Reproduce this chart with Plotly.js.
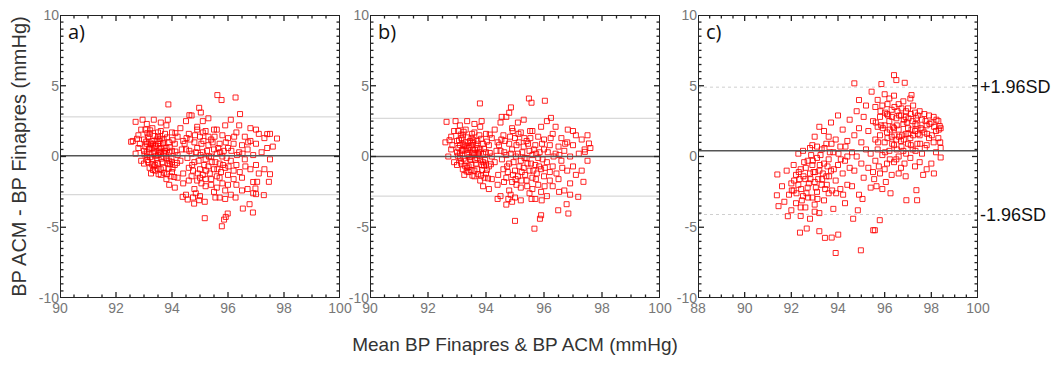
<!DOCTYPE html>
<html><head><meta charset="utf-8">
<script src="https://cdn.plot.ly/plotly-3.0.1.min.js"></script>
</head><body style="margin:0"><div id="chart"></div>
<script>
// Panel a) points [mean, difference]
const panelA = [
[92.6,1.1],[92.7,0.2],[92.8,1.5],[92.8,0.6],[92.9,-0.3],[92.9,1.9],[93.0,1.2],[93.0,0.4],[93.0,-0.5],[93.1,2.3],[93.1,0.9],[93.1,0.0],[93.2,1.6],[93.2,-0.8],[93.2,0.5],[93.3,1.1],[93.3,-0.2],[93.3,2.0],[93.4,0.7],[93.4,-1.0],[93.4,0.2],[93.5,1.4],[93.5,-0.5],[93.5,0.9],[93.6,-1.3],[93.6,0.3],[93.6,1.8],[93.7,0.0],[93.7,-0.8],[93.7,1.2],[93.8,0.6],[93.8,-1.6],[93.8,2.2],[93.9,-0.3],[93.9,1.0],[93.9,-2.0],[94.0,0.4],[94.0,-1.1],[94.0,1.7],[94.1,-0.6],[94.1,0.9],[94.1,-2.2],[94.2,0.1],[94.2,1.4],[94.2,-1.5],[93.05,0.7],[93.15,-0.4],[93.25,0.9],[93.35,0.3],[93.45,-0.1],[93.55,0.6],[93.65,-0.4],[93.75,0.4],[93.85,-0.5],[93.45,1.2],[93.25,-1.2],[93.6,2.4],[92.95,2.6],[93.35,2.6],[93.85,2.6],
[93.1,0.3],[93.2,1.0],[93.3,0.6],[93.4,-0.6],[93.5,0.1],[93.6,-0.9],[93.7,0.7],[93.8,-0.1],[93.9,0.3],[94.0,-0.4],[93.15,1.4],[93.55,1.1],[93.95,-1.4],[93.35,-0.7],
[93.02,0.15],[93.08,1.05],[93.12,-0.25],[93.18,0.55],[93.22,1.85],[93.28,-0.55],[93.32,0.85],[93.38,1.45],[93.42,0.05],[93.48,-0.85],[93.52,0.35],[93.58,1.25],[93.62,-0.15],[93.68,0.95],[93.72,-1.15],[93.78,0.15],[93.82,1.35],[93.88,-0.85],[93.92,0.65],[93.98,-0.15],[94.02,1.15],[94.08,-1.45],[94.12,0.35],[94.18,-0.45],[93.12,1.65],[93.22,-0.05],[93.32,-0.95],[93.42,0.75],[93.52,-1.25],[93.62,0.55],[93.72,0.25],[93.82,-1.25],[93.92,-0.55],[94.02,-0.85],[94.12,1.65],[93.05,1.9],[93.5,1.7],[93.75,1.6],[92.85,0.9],[92.75,1.25],
[94.3,2.0],[94.3,-0.3],[94.4,1.1],[94.4,-1.9],[94.5,0.5],[94.5,-2.7],[94.5,2.5],[94.6,-0.8],[94.6,1.6],[94.7,-1.4],[94.7,0.2],[94.7,2.9],[94.8,-2.3],[94.8,1.0],[94.8,-0.4],[94.9,0.6],[94.9,-1.7],[94.9,2.1],[95.0,-0.9],[95.0,1.4],[95.0,-2.8],[95.1,0.3],[95.1,2.5],[95.1,-1.3],[95.2,-0.2],[95.2,1.8],[95.2,-2.1],[95.3,0.8],[95.3,-0.7],[95.3,2.7],[95.4,-1.6],[95.4,0.0],[95.4,1.2],[95.5,-2.5],[95.5,0.5],[95.5,-0.9],[95.6,1.9],[95.6,-1.4],[95.6,0.2],[95.7,-2.9],[95.7,0.9],[95.7,-0.5],[95.8,1.5],[95.8,-1.9],[95.8,0.0],[95.9,-0.8],[95.9,2.2],[95.9,-2.4],[96.0,0.6],[96.0,-1.3],[96.0,1.3],[96.1,-0.3],[96.1,-2.7],[96.1,2.6],[96.2,0.9],[96.2,-1.0],[96.3,1.7],[96.3,-0.6],[96.3,-2.0],[96.4,0.3],[96.4,2.2],[96.5,-1.5],[96.5,0.8],[96.6,-0.2],[96.6,1.4],[96.7,-2.3],[96.7,0.5],[96.8,-0.9],[96.8,1.1],[96.9,0.1],[96.9,-1.8],[97.0,0.9],[97.0,-0.6],[97.1,1.6],[97.1,-1.2],[97.2,0.3],[97.3,1.3],[97.3,-0.9],[97.4,0.6],[97.5,-0.2],[97.5,1.6],[97.6,0.7],[97.0,1.9],[96.9,-2.6],
[94.45,0.9],[94.55,-0.1],[94.65,1.2],[94.75,-1.0],[94.85,0.3],[94.95,-0.3],[95.05,0.9],[95.15,-0.6],[95.25,0.4],[95.35,-1.2],[95.45,1.0],[95.55,-0.4],[95.65,0.6],[95.75,-1.1],[95.85,0.4],[95.95,-0.1],[95.05,-1.9],[94.85,-2.6],[95.6,-2.2],[96.2,-1.6],
[94.52,1.3],[94.62,0.4],[94.72,-0.6],[94.82,1.5],[94.92,-1.2],[95.02,0.1],[95.12,1.1],[95.22,-1.0],[95.32,0.0],[95.42,-0.4],[95.52,1.4],[95.62,-0.9],[95.72,0.3],[95.82,-0.6],[95.92,1.0],[96.02,-0.7],[96.12,0.4],[96.22,1.4],[96.32,0.1],[96.42,-1.1],[96.52,0.2],[96.62,-0.7],[96.72,1.0],[94.9,1.9],[95.1,1.7],[95.3,1.4],[95.5,1.9],[95.2,-1.6],[95.4,-2.0],[95.7,-1.5],[95.0,-1.5],[94.6,-1.7],[94.4,-1.2],[94.35,0.5],[96.0,-2.0],[96.5,-2.4],[95.9,-3.0],[95.55,-2.9],[94.75,-2.9],[96.8,2.0],
[95.62,4.34],[95.77,3.99],[96.27,4.17],[93.87,3.68],[94.97,3.44],[95.03,3.11],[96.43,3.0],[94.62,2.92],[92.7,2.45],[97.75,1.27],[97.4,1.58],[92.54,1.04],[97.46,-1.79],[97.5,-1.25],[97.04,-1.79],[96.98,-2.26],[97.0,-2.66],[97.28,-2.73],[96.89,-3.96],[96.77,-3.37],[96.53,-3.68],[95.78,-4.93],[95.92,-4.27],[95.99,-4.03],[95.86,-4.46],[95.17,-4.36],[96.27,-2.9],[94.79,-3.33],[94.97,-3.09],[94.56,-3.04],[94.38,-2.85],[95.17,-3.2]
];
// Panel b) points
const panelB = [
[92.6,1.0],[92.7,0.0],[92.8,1.4],[92.8,0.5],[92.9,-0.4],[92.9,1.8],[93.0,1.1],[93.0,0.3],[93.0,-0.6],[93.1,2.2],[93.1,0.8],[93.1,-0.1],[93.2,1.5],[93.2,-0.9],[93.2,0.4],[93.3,1.0],[93.3,-0.3],[93.3,1.9],[93.4,0.6],[93.4,-1.1],[93.4,0.1],[93.5,1.3],[93.5,-0.6],[93.5,0.8],[93.6,-1.4],[93.6,0.2],[93.6,1.7],[93.7,-0.1],[93.7,-0.9],[93.7,1.1],[93.8,0.5],[93.8,-1.7],[93.8,2.1],[93.9,-0.4],[93.9,0.9],[93.9,-2.1],[94.0,0.3],[94.0,-1.2],[94.0,1.6],[94.1,-0.7],[94.1,0.8],[94.1,-2.3],[94.2,0.0],[94.2,1.3],[94.2,-1.6],[93.05,0.6],[93.15,-0.5],[93.25,0.8],[93.35,0.2],[93.45,-0.2],[93.55,0.5],[93.65,-0.5],[93.75,0.3],[93.85,-0.6],[93.45,1.1],[93.25,-1.3],[93.6,2.3],[92.95,2.5],[93.35,2.5],[93.85,2.5],
[93.1,0.2],[93.2,0.9],[93.3,0.5],[93.4,-0.7],[93.5,0.0],[93.6,-1.0],[93.7,0.6],[93.8,-0.2],[93.9,0.2],[94.0,-0.5],[93.15,1.3],[93.55,1.0],[93.95,-1.5],[93.35,-0.8],
[93.03,0.05],[93.07,1.15],[93.13,-0.35],[93.17,0.45],[93.23,1.75],[93.27,-0.65],[93.33,0.75],[93.37,1.35],[93.43,-0.05],[93.47,-0.95],[93.53,0.25],[93.57,1.15],[93.63,-0.25],[93.67,0.85],[93.73,-1.25],[93.77,0.05],[93.83,1.25],[93.87,-0.95],[93.93,0.55],[93.97,-0.25],[94.03,1.05],[94.07,-1.55],[94.13,0.25],[94.17,-0.55],[93.13,1.55],[93.23,-0.15],[93.33,-1.05],[93.43,0.65],[93.53,-1.35],[93.63,0.45],[93.73,0.15],[93.83,-1.35],[93.93,-0.65],[94.03,-0.95],[94.13,1.55],[93.04,1.8],[93.52,1.6],[93.77,1.5],[92.84,0.8],[92.74,1.15],
[94.3,1.9],[94.3,-0.4],[94.4,1.0],[94.4,-2.0],[94.5,0.4],[94.5,-2.8],[94.5,2.4],[94.6,-0.9],[94.6,1.5],[94.7,-1.5],[94.7,0.1],[94.7,2.8],[94.8,-2.4],[94.8,0.9],[94.8,-0.5],[94.9,0.5],[94.9,-1.8],[94.9,2.0],[95.0,-1.0],[95.0,1.3],[95.0,-2.9],[95.1,0.2],[95.1,2.4],[95.1,-1.4],[95.2,-0.3],[95.2,1.7],[95.2,-2.2],[95.3,0.7],[95.3,-0.8],[95.3,2.6],[95.4,-1.7],[95.4,-0.1],[95.4,1.1],[95.5,-2.6],[95.5,0.4],[95.5,-1.0],[95.6,1.8],[95.6,-1.5],[95.6,0.1],[95.7,-3.0],[95.7,0.8],[95.7,-0.6],[95.8,1.4],[95.8,-2.0],[95.8,-0.1],[95.9,-0.9],[95.9,2.1],[95.9,-2.5],[96.0,0.5],[96.0,-1.4],[96.0,1.2],[96.1,-0.4],[96.1,-2.8],[96.1,2.5],[96.2,0.8],[96.2,-1.1],[96.3,1.6],[96.3,-0.7],[96.3,-2.1],[96.4,0.2],[96.4,2.1],[96.5,-1.6],[96.5,0.7],[96.6,-0.3],[96.6,1.3],[96.7,-2.4],[96.7,0.4],[96.8,-1.0],[96.8,1.0],[96.9,0.0],[96.9,-1.9],[97.0,0.8],[97.0,-0.7],[97.1,1.5],[97.1,-1.3],[97.2,0.2],[97.3,1.2],[97.3,-1.0],[97.4,0.5],[97.5,-0.3],[97.5,1.5],[97.6,0.6],[97.0,1.8],[96.9,-2.7],
[94.45,0.8],[94.55,-0.2],[94.65,1.1],[94.75,-1.1],[94.85,0.2],[94.95,-0.4],[95.05,0.8],[95.15,-0.7],[95.25,0.3],[95.35,-1.3],[95.45,0.9],[95.55,-0.5],[95.65,0.5],[95.75,-1.2],[95.85,0.3],[95.95,-0.2],[95.05,-2.0],[94.85,-2.7],[95.6,-2.3],[96.2,-1.7],
[94.53,1.2],[94.63,0.3],[94.73,-0.7],[94.83,1.4],[94.93,-1.3],[95.03,0.0],[95.13,1.0],[95.23,-1.1],[95.33,-0.1],[95.43,-0.5],[95.53,1.3],[95.63,-1.0],[95.73,0.2],[95.83,-0.7],[95.93,0.9],[96.03,-0.8],[96.13,0.3],[96.23,1.3],[96.33,0.0],[96.43,-1.2],[96.53,0.1],[96.63,-0.8],[96.73,0.9],[94.92,1.8],[95.12,1.6],[95.32,1.3],[95.52,1.8],[95.22,-1.7],[95.42,-2.1],[95.72,-1.6],[95.02,-1.6],[94.62,-1.8],[94.42,-1.3],[94.36,0.4],[96.02,-2.1],[96.52,-2.5],[95.92,-3.1],[95.57,-3.0],[94.77,-3.0],[96.82,1.9],
[95.48,4.1],[95.57,3.8],[96.03,3.94],[93.79,3.75],[94.86,3.47],[94.8,3.09],[96.24,2.73],[94.54,2.8],[92.64,2.45],[97.55,0.92],[97.41,0.33],[97.36,-1.79],[97.18,-2.85],[96.78,-3.37],[96.84,-4.03],[96.49,-3.8],[95.9,-4.15],[95.86,-4.4],[95.67,-5.1],[95.0,-4.55],[94.7,-3.4],[94.9,-3.2],[94.4,-3.0],[95.2,-3.1]
];
// Panel c) points
const panelC = [
[91.6,-2.1],[91.7,-3.2],[91.8,-1.0],[91.9,-2.7],[92.0,-1.9],[92.0,-3.8],[92.1,-0.6],[92.1,-2.4],[92.2,-3.3],[92.2,-1.3],[92.3,0.2],[92.3,-2.0],[92.4,-4.2],[92.4,-0.9],[92.5,-2.8],[92.5,0.4],[92.6,-1.6],[92.6,-3.6],[92.7,-0.3],[92.7,-2.2],[92.8,0.6],[92.8,-1.2],[92.8,-4.4],[92.9,-2.9],[92.9,-0.6],[93.0,-1.8],[93.0,1.4],[93.0,-3.4],[93.1,-0.1],[93.1,-2.5],[93.2,2.1],[93.2,-1.0],[93.2,-4.0],[93.3,0.5],[93.3,-2.0],[93.4,-0.5],[93.4,1.8],[93.4,-3.1],[93.5,-1.4],[93.5,0.9],[93.6,-2.6],[93.6,-0.2],[93.7,2.4],[93.7,-1.0],[93.8,0.3],[93.8,-3.7],[93.9,-1.7],[93.9,1.2],[94.0,-0.6],[94.0,2.9],[94.1,-2.3],[94.1,0.7],[94.2,-1.2],[94.2,1.9],[94.3,-0.3],[94.3,-3.3],[94.4,1.1],[94.4,-2.0],[94.5,2.6],[94.5,-0.8],[92.35,-1.6],[92.55,-0.4],[92.75,-1.9],[92.95,-1.1],[93.15,-1.6],[93.35,-1.2],[93.55,-0.7],[92.65,-2.6],[93.05,-2.2],[93.45,-2.3],[92.85,0.1],[93.25,0.1],[93.65,0.3],[92.45,-3.1],[93.75,-2.4],
[92.02,-2.4],[92.12,-1.7],[92.22,-2.6],[92.32,-1.1],[92.42,-2.3],[92.52,-1.4],[92.62,-0.8],[92.72,-2.9],[92.82,-1.6],[92.92,-0.3],[93.02,-1.1],[93.12,-3.0],[93.22,-0.6],[93.32,-1.6],[93.42,0.6],[93.52,-2.0],[93.62,-1.4],[93.72,0.9],[93.82,-0.9],[93.92,-2.6],[94.02,0.2],[94.12,-0.2],[94.22,-2.7],[94.32,0.7],[92.9,0.8],[93.1,0.7],[93.6,1.4],[94.4,0.0],[92.4,-3.6],[93.0,-3.9],
[94.6,0.3],[94.6,-2.1],[94.7,1.5],[94.7,-1.0],[94.8,3.2],[94.8,0.0],[94.9,-2.7],[94.9,2.0],[95.0,-0.5],[95.0,1.0],[95.1,2.8],[95.1,-1.5],[95.2,0.5],[95.2,3.6],[95.3,-0.8],[95.3,1.8],[95.4,-2.2],[95.4,0.2],[95.5,2.5],[95.5,-1.1],[94.65,-4.4],[94.85,-3.8],[95.05,-3.0],
[95.6,1.2],[95.6,3.5],[95.6,-0.3],[95.7,2.1],[95.7,4.0],[95.7,0.5],[95.8,-1.2],[95.8,2.8],[95.8,1.5],[95.9,3.6],[95.9,0.1],[95.9,-2.3],[96.0,2.2],[96.0,1.0],[96.0,4.4],[96.1,-0.5],[96.1,3.0],[96.1,1.7],[96.2,2.5],[96.2,0.4],[96.2,4.1],[96.3,-1.3],[96.3,1.4],[96.3,3.3],[96.4,2.0],[96.4,0.8],[96.4,4.3],[96.5,-0.2],[96.5,2.7],[96.5,1.2],[96.6,3.7],[96.6,0.0],[96.6,1.9],[96.7,2.9],[96.7,-0.8],[96.7,1.1],[96.8,2.3],[96.8,3.9],[96.8,0.4],[96.9,1.6],[96.9,-1.4],[96.9,2.8],[97.0,0.9],[97.0,3.4],[97.0,2.0],[97.1,-0.1],[97.1,1.3],[97.1,4.1],[97.2,2.5],[97.2,0.5],[97.3,1.8],[97.3,3.1],[97.3,-0.7],[97.4,2.2],[97.4,0.9],[97.5,1.5],[97.5,3.2],[97.5,-0.4],[97.6,2.6],[97.6,0.2],[97.7,1.7],[97.7,3.0],[97.8,-0.9],[97.8,2.2],[97.8,0.8],[97.9,2.9],[97.9,1.3],[98.0,-0.5],[98.0,2.4],[98.1,1.0],[98.1,2.8],[98.2,1.8],[98.2,0.3],[98.3,2.5],[98.3,1.3],[98.4,2.0],[98.4,0.6],[96.05,-1.8],[96.25,-2.6],[95.65,-2.1],[96.85,-0.5],[97.65,-1.3],[96.15,2.9],[96.35,2.1],[96.55,3.2],[96.75,1.5],[96.95,2.4],[97.15,1.9],[97.35,2.7],[97.55,2.0],[97.75,2.5],
[95.62,2.4],[95.72,1.0],[95.82,3.2],[95.92,2.0],[96.02,0.3],[96.02,3.1],[96.12,1.3],[96.12,3.7],[96.22,1.9],[96.22,-0.2],[96.32,2.8],[96.32,0.9],[96.42,3.5],[96.42,1.5],[96.52,2.2],[96.52,0.5],[96.62,2.9],[96.62,1.4],[96.72,3.4],[96.72,0.7],[96.82,2.6],[96.82,1.2],[96.92,3.2],[96.92,0.2],[97.02,1.6],[97.02,2.7],[97.12,0.8],[97.12,3.0],[97.22,1.5],[97.22,3.6],[97.32,2.3],[97.32,0.4],[97.42,1.6],[97.42,2.9],[97.52,0.9],[97.62,1.9],[97.72,0.6],[97.82,1.6],[97.92,2.3],[98.02,1.5],[98.12,2.1],[98.22,2.6],[98.32,1.9],[98.38,1.0],[95.75,-0.7],[96.0,-0.9],[96.4,-0.4],[96.6,-1.2],[95.55,-1.6],[95.85,2.2],
[96.4,5.75],[96.5,5.4],[96.86,5.21],[95.86,5.12],[94.7,5.17],[95.44,4.58],[97.15,4.34],[94.9,3.99],[93.9,-6.82],[94.98,-6.63],[95.58,-5.21],[95.51,-5.21],[95.79,-4.5],[93.44,-5.75],[93.73,-5.73],[94.01,-5.52],[93.2,-5.28],[92.37,-5.38],[92.66,-5.09],[91.4,-1.27],[91.38,-2.74],[91.45,-3.51],[91.85,-4.22],[97.36,-2.38],[97.39,-3.09],[96.93,-3.09],[98.36,2.15],[98.4,-0.07],[98.11,-1.2]
];
// Mean bias and limits of agreement (±1.96SD) per panel
const meanLines  = [0.05, 0.0, 0.4];
const upperLines = [2.8, 2.7, 4.9];
const lowerLines = [-2.7, -2.8, -4.1];
const panelLabels = ["a)", "b)", "c)"];
const xRanges = [[90,100],[90,100],[88,100]];
const yRange = [-10, 10];
const yTickVals = [-10,-5,0,5,10];
const yTickText = ["-10","-5","0","5","10"];
const sdLabels = ["+1.96SD", "-1.96SD"];
const xTitle = "Mean BP Finapres & BP ACM (mmHg)";
const yTitle = "BP ACM - BP Finapres (mmHg)";

const W = 1059, H = 367;
const xDomains = [[60/W, 340/W],[370/W, 660/W],[698/W, 978/W]];
const yDomain = [1-298/H, 1-15/H];
const panels = [panelA, panelB, panelC];

function ax(i){
  const a = {domain: xDomains[i], range: xRanges[i], anchor: 'y'+(i?i+1:''),
    tickmode:'linear', tick0: xRanges[i][0], dtick:2, ticks:'',
    showline:false, showgrid:false, zeroline:false, fixedrange:true,
    tickfont:{size:14, color:'#777'}};
  if (i === 1) a.title = {text: xTitle, font:{size:19, color:'#333'}, standoff: 22};
  return a;
}
function ay(i){
  const a = {domain: yDomain, range: yRange, anchor: 'x'+(i?i+1:''),
    tickmode:'array', tickvals: yTickVals, ticktext: yTickText, ticks:'',
    showline:false, showgrid:false, zeroline:false, fixedrange:true,
    tickfont:{size:14, color:'#777'}};
  if (i === 0) a.title = {text: yTitle, font:{size:20, color:'#333'}, standoff: 6};
  return a;
}

// Inward tick marks (major every 2 on x / 5 on y, minor every 0.5), built from the axis ranges
function tickTrace(i, xa, ya){
  const xr = xRanges[i];
  const pxX = (xDomains[i][1]-xDomains[i][0]) * W / (xr[1]-xr[0]);
  const pxY = (yDomain[1]-yDomain[0]) * H / (yRange[1]-yRange[0]);
  const xs = [], ys = [];
  const nx = Math.round((xr[1]-xr[0]) / 0.5);
  for (let k = 1; k < nx; k++) {
    const v = xr[0] + k*0.5;
    const len = (k % 4 === 0 ? 6 : 3.5) / pxY;
    xs.push(v, v, null, v, v, null);
    ys.push(yRange[0], yRange[0]+len, null, yRange[1], yRange[1]-len, null);
  }
  const ny = Math.round((yRange[1]-yRange[0]) / 0.5);
  for (let k = 1; k < ny; k++) {
    const v = yRange[0] + k*0.5;
    const len = (k % 10 === 0 ? 6 : 3.5) / pxX;
    xs.push(xr[0], xr[0]+len, null, xr[1], xr[1]-len, null);
    ys.push(v, v, null, v, v, null);
  }
  return {type:'scatter', mode:'lines', x:xs, y:ys, xaxis:xa, yaxis:ya, hoverinfo:'skip',
    line:{color:'#222', width:1.3}, connectgaps:false};
}

const data = [];
panels.forEach((p,i) => {
  const xa = 'x' + (i ? i+1 : ''), ya = 'y' + (i ? i+1 : '');
  const xr = xRanges[i];
  const dash = i === 2 ? 'dot' : 'solid';
  data.push({type:'scatter', mode:'lines', x: xr, y:[upperLines[i], upperLines[i]], xaxis:xa, yaxis:ya, hoverinfo:'skip', line:{color:'#cfcfcf', width:1, dash:dash}});
  data.push({type:'scatter', mode:'lines', x: xr, y:[lowerLines[i], lowerLines[i]], xaxis:xa, yaxis:ya, hoverinfo:'skip', line:{color:'#cfcfcf', width:1, dash:dash}});
  data.push({type:'scatter', mode:'markers', x: p.map(d => d[0]), y: p.map(d => d[1]), xaxis:xa, yaxis:ya, hoverinfo:'skip',
    marker:{symbol:'square-open', size:5, color:'rgba(255,0,0,0.85)', line:{width:1}}});
  data.push({type:'scatter', mode:'lines', x: xr, y:[meanLines[i], meanLines[i]], xaxis:xa, yaxis:ya, hoverinfo:'skip', line:{color:'#555', width:1.5}});
  data.push(tickTrace(i, xa, ya));
  // frame around the plot area
  data.push({type:'scatter', mode:'lines', x:[xr[0], xr[1], xr[1], xr[0], xr[0]], y:[yRange[0], yRange[0], yRange[1], yRange[1], yRange[0]],
    xaxis:xa, yaxis:ya, hoverinfo:'skip', cliponaxis:false, line:{color:'#222', width:2}});
});

const annotations = [];
for (let i = 0; i < 3; i++) {
  const sx = i ? String(i+1) : '';
  annotations.push({xref:'x' + sx + ' domain', yref:'y' + sx + ' domain', x:0.02, y:0.995, xanchor:'left', yanchor:'top',
    text: panelLabels[i], showarrow:false, font:{size:20, color:'#111', family:'Open Sans, Liberation Sans, sans-serif'}});
}
annotations.push(
  {xref:'x3 domain', yref:'y3', x:1, y:upperLines[2], xanchor:'left', yanchor:'middle', text:sdLabels[0], showarrow:false, font:{size:18, color:'#111'}},
  {xref:'x3 domain', yref:'y3', x:1, y:lowerLines[2], xanchor:'left', yanchor:'middle', text:sdLabels[1], showarrow:false, font:{size:18, color:'#111'}}
);

const layout = {width:W, height:H, margin:{l:0, r:0, t:0, b:0}, showlegend:false,
  font:{family:'Liberation Sans, Arial, sans-serif', color:'#555', size:12}, paper_bgcolor:'#fff', plot_bgcolor:'#fff',
  xaxis: ax(0), yaxis: ay(0), xaxis2: ax(1), yaxis2: ay(1), xaxis3: ax(2), yaxis3: ay(2),
  annotations: annotations};
Plotly.newPlot('chart', data, layout, {staticPlot:true, displayModeBar:false});
</script></body></html>
